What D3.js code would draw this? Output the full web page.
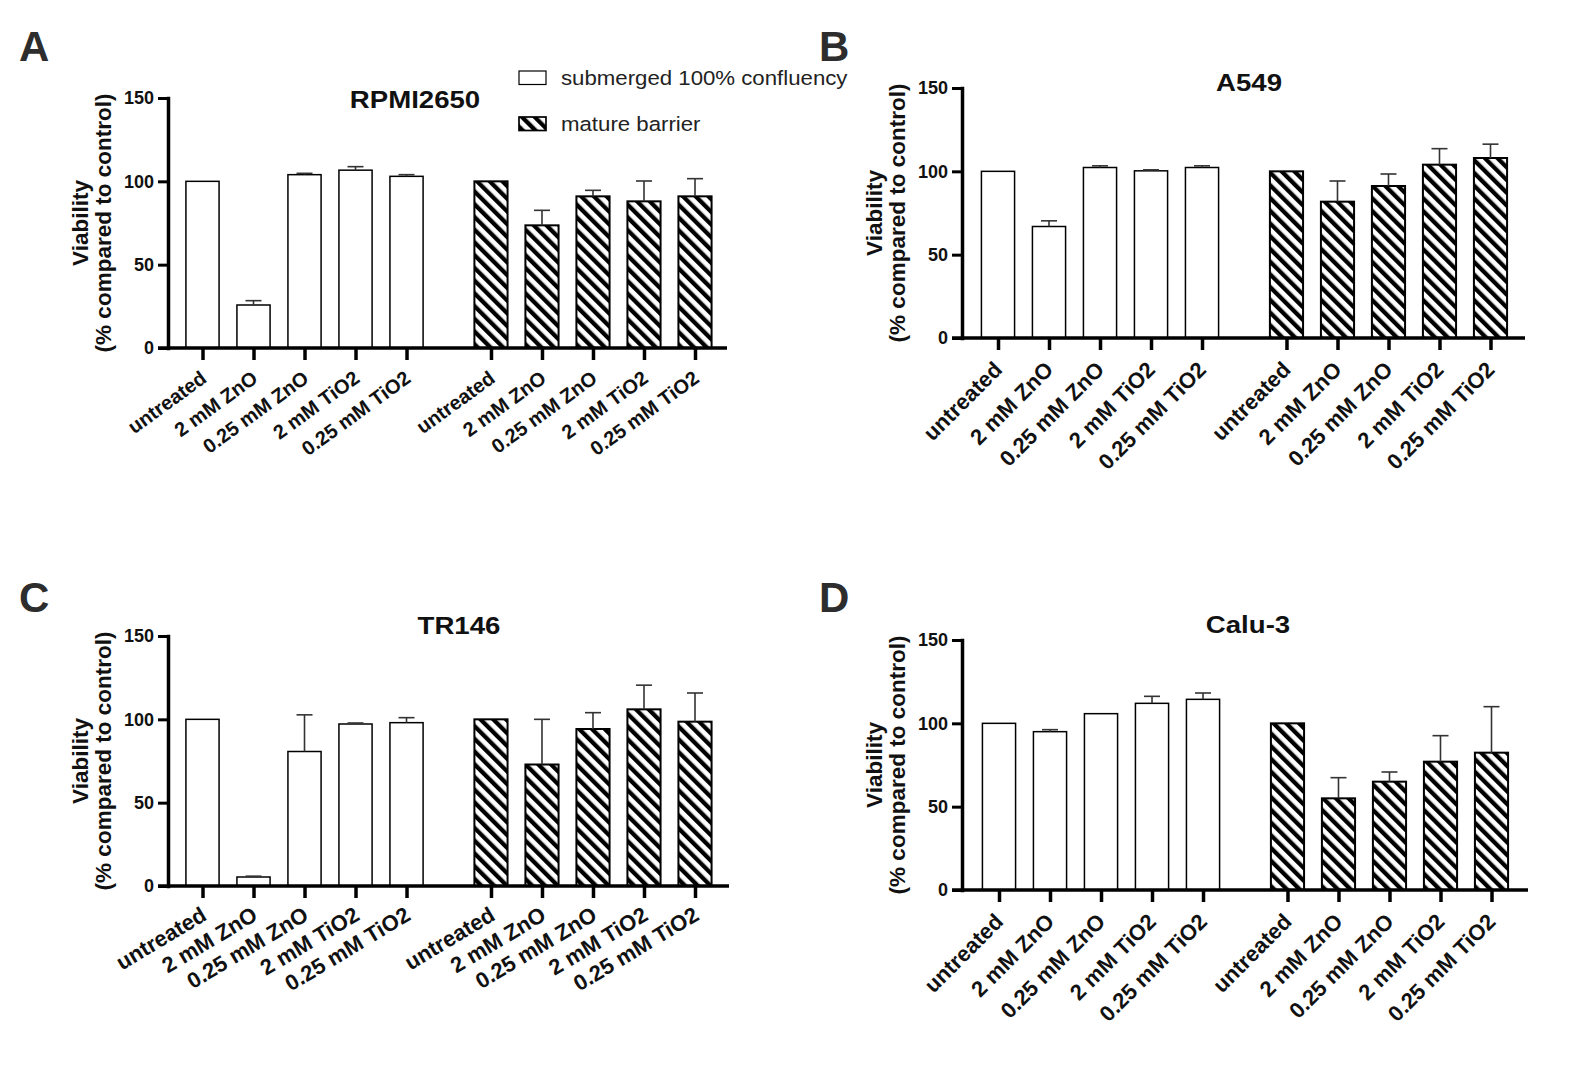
<!DOCTYPE html>
<html>
<head>
<meta charset="utf-8">
<script src="https://cdn.jsdelivr.net/npm/d3@7"></script>
<style>
  body { margin: 0; background: #fff; }
  text { font-family: "Liberation Sans", Arial, sans-serif; }
</style>
</head>
<body>
<div id="figure"></div>
<script>
// viability after ZnO / TiO2 exposure, four cell lines

// categories
const cellLines = ["RPMI2650", "A549", "TR146", "Calu-3"];
const panelLetters = ["A", "B", "C", "D"];
const groups = ["submerged 100% confluency", "mature barrier"];
const treatments = ["untreated", "2 mM ZnO", "0.25 mM ZnO", "2 mM TiO2", "0.25 mM TiO2"];
const yTicks = [0, 50, 100, 150];
const yTitle = ["Viability", "(% compared to control)"];

// mean viability (%) and upper error (SD)
const rpmiSubmerged   = [100, 25.8, 104, 106.7, 103];
const rpmiSubmergedSD = [0, 2.6, 0.8, 2.1, 1];
const rpmiMature      = [100, 73.6, 91, 88, 91];
const rpmiMatureSD    = [0, 9, 3.6, 12.2, 10.6];

const a549Submerged   = [100, 66.9, 102.3, 100.3, 102.3];
const a549SubmergedSD = [0, 3.4, 1, 0.6, 1];
const a549Mature      = [100, 81.8, 91.2, 104, 108];
const a549MatureSD    = [0, 12.4, 7.2, 9.6, 8.3];

const tr146Submerged   = [100, 5.4, 80.7, 97.2, 98];
const tr146SubmergedSD = [0, 0.5, 22, 0.6, 3];
const tr146Mature      = [100, 72.9, 94.2, 106, 98.6];
const tr146MatureSD    = [0, 27.1, 9.8, 14.5, 17.2];

const calu3Submerged   = [100, 95, 105.8, 112, 114.4];
const calu3SubmergedSD = [0, 1.2, 0, 4.2, 3.8];
const calu3Mature      = [100, 55, 65, 77, 82.4];
const calu3MatureSD    = [0, 12.4, 5.8, 15.6, 27.6];

const panelData = [
  [[rpmiSubmerged, rpmiSubmergedSD], [rpmiMature, rpmiMatureSD]],
  [[a549Submerged, a549SubmergedSD], [a549Mature, a549MatureSD]],
  [[tr146Submerged, tr146SubmergedSD], [tr146Mature, tr146MatureSD]],
  [[calu3Submerged, calu3SubmergedSD], [calu3Mature, calu3MatureSD]]
];

// where each panel sits on the page
const layout = [
  { ox: 168, y0: 348, gx: 177,   axisEnd: 727,  titleX: 415,  titleY: 108, letterX: 19,  letterY: 61,  labelSize: 20, labelAngle: 36 },
  { ox: 962, y0: 338, gx: 972.5, axisEnd: 1525, titleX: 1249, titleY: 91,  letterX: 819, letterY: 61,  labelSize: 22, labelAngle: 45 },
  { ox: 168, y0: 886, gx: 177,   axisEnd: 729,  titleX: 459,  titleY: 634, letterX: 19,  letterY: 612, labelSize: 22, labelAngle: 31 },
  { ox: 962, y0: 890, gx: 973.5, axisEnd: 1528, titleX: 1248, titleY: 633, letterX: 819, letterY: 612, labelSize: 22, labelAngle: 45 }
];

const width = 1592, height = 1080;
const plotH = 250;      // height of 0..150
const groupsW = 543.5;  // width taken by both bar groups

const svg = d3.select("#figure")
  .append("svg")
  .attr("width", width)
  .attr("height", height);

// diagonal hatch for the mature barrier bars
const hatch = svg.append("defs")
  .append("pattern")
  .attr("id", "hatch")
  .attr("patternUnits", "userSpaceOnUse")
  .attr("width", 9)
  .attr("height", 9)
  .attr("patternTransform", "rotate(-45)");
hatch.append("rect").attr("width", 9).attr("height", 9).attr("fill", "#fff");
hatch.append("rect").attr("width", 4.3).attr("height", 9).attr("fill", "#000");

const fills = ["#fff", "url(#hatch)"];
const strokes = [1.5, 2];

cellLines.forEach(function(name, i) {
  const L = layout[i];
  const g = svg.append("g");

  // scales
  const y = d3.scaleLinear().domain([0, 150]).range([L.y0, L.y0 - plotH]);
  const x0 = d3.scaleBand().domain(groups).range([L.gx, L.gx + groupsW]).paddingInner(0.116);
  const x1 = d3.scaleBand().domain(treatments).range([0, x0.bandwidth()])
    .paddingInner(0.35).paddingOuter(0.175);

  const keys = [];
  const centers = [];
  groups.forEach(gr => treatments.forEach(t => {
    keys.push(gr + "|" + t);
    centers.push(x0(gr) + x1(t) + x1.bandwidth() / 2);
  }));
  const xTick = d3.scaleOrdinal().domain(keys).range(centers);

  // rows for bars
  const rows = [];
  groups.forEach((gr, gi) => treatments.forEach((t, ti) => {
    rows.push({ group: gr, gi: gi, t: t, v: panelData[i][gi][0][ti], sd: panelData[i][gi][1][ti] });
  }));

  // bars
  g.append("g")
    .selectAll("rect")
    .data(rows)
    .join("rect")
      .attr("x", d => x0(d.group) + x1(d.t))
      .attr("y", d => y(d.v))
      .attr("width", x1.bandwidth())
      .attr("height", d => y(0) - y(d.v))
      .attr("fill", d => fills[d.gi])
      .attr("stroke", "#000")
      .attr("stroke-width", d => strokes[d.gi]);

  // error bars (upper only)
  const err = g.append("g")
    .selectAll("g")
    .data(rows.filter(d => d.sd > 0))
    .join("g")
      .attr("stroke", "#333")
      .attr("stroke-width", 1.6);
  err.append("line")
    .attr("x1", d => xTick(d.group + "|" + d.t))
    .attr("x2", d => xTick(d.group + "|" + d.t))
    .attr("y1", d => y(d.v))
    .attr("y2", d => y(d.v + d.sd));
  err.append("line")
    .attr("x1", d => xTick(d.group + "|" + d.t) - 8)
    .attr("x2", d => xTick(d.group + "|" + d.t) + 8)
    .attr("y1", d => y(d.v + d.sd))
    .attr("y2", d => y(d.v + d.sd));

  // y axis
  const axisY = g.append("g")
    .attr("transform", `translate(${L.ox},0)`)
    .call(d3.axisLeft(y).tickValues(yTicks).tickSize(10).tickSizeOuter(0).tickPadding(4));
  axisY.select(".domain").attr("stroke-width", 3.5).attr("stroke-linecap", "square");
  axisY.selectAll(".tick line").attr("stroke-width", 3);
  axisY.selectAll(".tick text")
    .style("font-family", "Liberation Sans, Arial, sans-serif")
    .style("font-size", "18px")
    .style("font-weight", "bold")
    .attr("fill", "#111");

  // x axis
  const axisX = g.append("g")
    .attr("transform", `translate(0,${L.y0})`)
    .call(d3.axisBottom(xTick).tickSize(12).tickFormat(k => k.split("|")[1]));
  axisX.select(".domain").remove();
  axisX.selectAll(".tick line").attr("stroke-width", 3.5);
  axisX.selectAll(".tick text")
    .attr("y", 0)
    .attr("dy", 0)
    .attr("text-anchor", "end")
    .attr("transform", `translate(5,33) rotate(-${L.labelAngle})`)
    .style("font-family", "Liberation Sans, Arial, sans-serif")
    .style("font-size", L.labelSize + "px")
    .style("font-weight", "bold")
    .attr("fill", "#111");

  // base line of the x axis, running from the y tick to the end
  g.append("line")
    .attr("x1", L.ox - 10)
    .attr("x2", L.axisEnd)
    .attr("y1", y(0))
    .attr("y2", y(0))
    .attr("stroke", "#000")
    .attr("stroke-width", 3.5);

  // y axis title
  const yMid = (y(0) + y(150)) / 2;
  yTitle.forEach((line, li) => {
    g.append("text")
      .attr("transform", `translate(${L.ox - 80 + li * 23},${yMid}) rotate(-90)`)
      .attr("text-anchor", "middle")
      .style("font-size", "22.5px")
      .style("font-weight", "bold")
      .attr("fill", "#111")
      .text(line);
  });

  // panel title
  g.append("text")
    .attr("transform", `translate(${L.titleX},${L.titleY}) scale(1.15,1)`)
    .attr("text-anchor", "middle")
    .style("font-size", "24px")
    .style("font-weight", "bold")
    .attr("fill", "#111")
    .text(name);

  // panel letter
  g.append("text")
    .attr("x", L.letterX)
    .attr("y", L.letterY)
    .style("font-size", "42px")
    .style("font-weight", "bold")
    .attr("fill", "#2d2d2d")
    .text(panelLetters[i]);
});

// legend (top of panel A)
const legend = svg.append("g")
  .selectAll("g")
  .data(groups)
  .join("g")
    .attr("transform", (d, i) => `translate(519,${71 + i * 46})`);
legend.append("rect")
  .attr("width", 27)
  .attr("height", 13.5)
  .attr("fill", (d, i) => fills[i])
  .attr("stroke", "#000")
  .attr("stroke-width", (d, i) => strokes[i] - 0.3);
legend.append("text")
  .attr("transform", "translate(42,13.5) scale(1.14,1)")
  .style("font-size", "19.5px")
  .attr("fill", "#222")
  .text(d => d);
</script>
</body>
</html>
